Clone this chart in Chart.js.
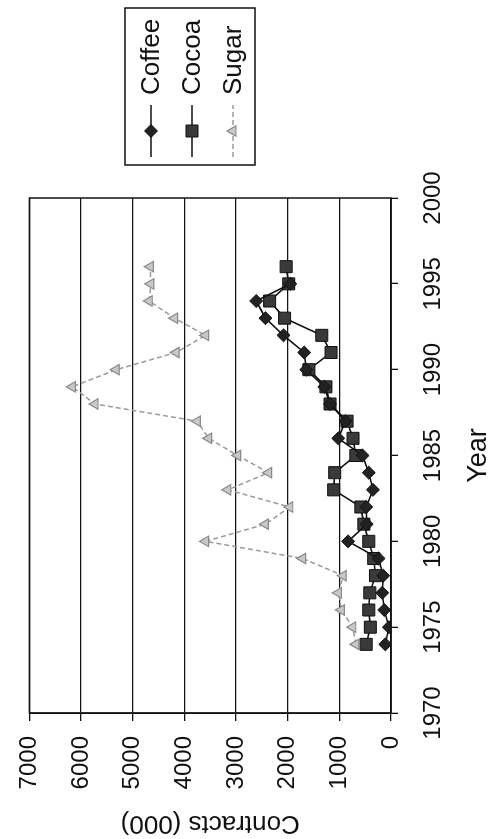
<!DOCTYPE html>
<html>
<head>
<meta charset="utf-8">
<script src="https://cdn.jsdelivr.net/npm/chart.js@4.4.1/dist/chart.umd.min.js"></script>
<style>
html,body{margin:0;padding:0;background:#fff;overflow:hidden;width:492px;height:839px;}
#wrap{position:absolute;left:0;top:839px;width:839px;height:492px;transform-origin:0 0;transform:rotate(-90deg);}
canvas{display:block;}
</style>
</head>
<body>
<div id="wrap"><canvas id="c" width="839" height="492"></canvas></div>
<script>
// ---- data ----
const years  = [1974,1975,1976,1977,1978,1979,1980,1981,1982,1983,1984,1985,1986,1987,1988,1989,1990,1991,1992,1993,1994,1995,1996];
const coffee = [110,40,130,170,150,240,830,470,480,350,430,550,1020,880,1180,1290,1640,1680,2080,2430,2610,1950,null];
const cocoa  = [480,400,430,410,300,335,430,525,583,1110,1090,680,735,850,1180,1260,1590,1160,1340,2060,2350,1980,2030];
const sugar  = [680,740,960,1020,925,1710,3590,2430,1960,3160,2370,2970,3530,3750,5730,6170,5320,4160,3590,4190,4680,4650,4660];
const seriesNames = ['Coffee','Cocoa','Sugar'];
const yearTicks = [1970,1975,1980,1985,1990,1995,2000];
const contractTicks = [0,1000,2000,3000,4000,5000,6000,7000];
const xTitle = 'Year';
const yTitle = 'Contracts (000)';

const FONT = '"Liberation Sans", Arial, Helvetica, sans-serif';
const pts = arr => years.map((y,i)=>({x:y, y:arr[i]}));

const frame = {
  id:'frame',
  afterDatasetsDraw(chart){
    const a = chart.chartArea, ctx = chart.ctx;
    ctx.save(); ctx.strokeStyle='#111'; ctx.lineWidth=1.5;
    ctx.strokeRect(a.left, a.top, a.right-a.left, a.bottom-a.top);
    ctx.restore();
  }
};

const boxLegend = {
  id:'boxLegend',
  afterDraw(chart, args, o){
    const ctx = chart.ctx;
    ctx.save();
    ctx.strokeStyle='#111'; ctx.lineWidth=1.5;
    ctx.strokeRect(o.left, o.top, o.width, o.height);
    ctx.font = '26px ' + FONT; ctx.fillStyle='#111';
    ctx.textBaseline='middle'; ctx.textAlign='left';
    chart.data.datasets.forEach((ds,i)=>{
      const cy = o.top + o.firstRow + i*o.rowGap;
      const x0 = o.left + o.lineStart, x1 = x0 + o.lineLen, xm = (x0+x1)/2;
      ctx.save();
      ctx.strokeStyle = ds.borderColor; ctx.lineWidth = ds.borderWidth;
      ctx.setLineDash(ds.borderDash || []);
      ctx.beginPath(); ctx.moveTo(x0,cy); ctx.lineTo(x1,cy); ctx.stroke();
      ctx.restore();
      Chart.helpers.drawPoint(ctx, {pointStyle: ds.pointStyle, radius: ds.pointRadius, borderWidth: ds.pointBorderWidth, rotation:0}, xm, cy);
      // drawPoint needs fill/stroke style set
      ctx.fillStyle='#111';
      ctx.fillText(ds.label, x1 + o.textGap, cy+1);
    });
    ctx.restore();
  }
};

// patch drawPoint usage: set styles before call
const origDraw = boxLegend.afterDraw;
boxLegend.afterDraw = function(chart,args,o){
  const ctx = chart.ctx;
  const dp = Chart.helpers.drawPoint;
  let idx = 0;
  Chart.helpers.drawPoint = function(c, opts, x, y){
    const ds = chart.data.datasets[idx++];
    c.save(); c.setLineDash([]);
    c.fillStyle = ds.pointBackgroundColor; c.strokeStyle = ds.pointBorderColor; c.lineWidth = ds.pointBorderWidth;
    dp(c, opts, x, y); c.restore();
  };
  try { origDraw(chart,args,o); } finally { Chart.helpers.drawPoint = dp; }
};

new Chart(document.getElementById('c'), {
  type:'line',
  data:{
    datasets:[
      {label:seriesNames[0], data:pts(coffee), borderColor:'#111', borderWidth:1.6,
       pointStyle:'rectRot', pointRadius:6.5, pointBackgroundColor:'#222', pointBorderColor:'#111', pointBorderWidth:1, spanGaps:false},
      {label:seriesNames[1], data:pts(cocoa), borderColor:'#111', borderWidth:1.6,
       pointStyle:'rect', pointRadius:8.5, pointBackgroundColor:'#3a3a3a', pointBorderColor:'#111', pointBorderWidth:1},
      {label:seriesNames[2], data:pts(sugar), borderColor:'#9a9a9a', borderWidth:1.5, borderDash:[5,3],
       pointStyle:'triangle', pointRadius:6, pointBackgroundColor:'#c8c8c8', pointBorderColor:'#8a8a8a', pointBorderWidth:1.2}
    ]
  },
  options:{
    responsive:false, animation:false, devicePixelRatio:1,
    layout:{padding:{left:0, right:198, top:19, bottom:0}},
    elements:{line:{tension:0}},
    plugins:{
      legend:{display:false}, tooltip:{enabled:false},
      boxLegend:{left:674, top:125, width:157, height:130, firstRow:26, rowGap:41, lineStart:8, lineLen:52, textGap:10}
    },
    scales:{
      x:{type:'linear', min:yearTicks[0], max:yearTicks[yearTicks.length-1],
         afterBuildTicks: s => { s.ticks = yearTicks.map(v=>({value:v})); },
         afterFit: s => { s.height = 101; },
         ticks:{font:{family:FONT,size:24}, color:'#111', padding:21, maxRotation:0, callback:v=>String(v)},
         grid:{drawOnChartArea:false, drawTicks:true, tickLength:7, color:'#111', lineWidth:1.3},
         border:{display:true, color:'#111', width:1.5},
         title:{display:true, text:xTitle, font:{family:FONT,size:27,lineHeight:1}, color:'#111', padding:{top:0,bottom:0}}
      },
      y:{type:'linear', min:contractTicks[0], max:contractTicks[contractTicks.length-1],
         afterBuildTicks: s => { s.ticks = contractTicks.map(v=>({value:v})); },
         afterFit: s => { s.width = 126; },
         ticks:{font:{family:FONT,size:24}, color:'#111', padding:15, callback:v=>String(v)},
         grid:{color:'#111', lineWidth:1.3, tickLength:8},
         border:{display:true, color:'#111', width:1.5},
         title:{display:true, text:yTitle, font:{family:FONT,size:26,lineHeight:1}, color:'#111', padding:{top:3,bottom:0}}
      }
    }
  },
  plugins:[frame, boxLegend]
});
</script>
</body>
</html>
